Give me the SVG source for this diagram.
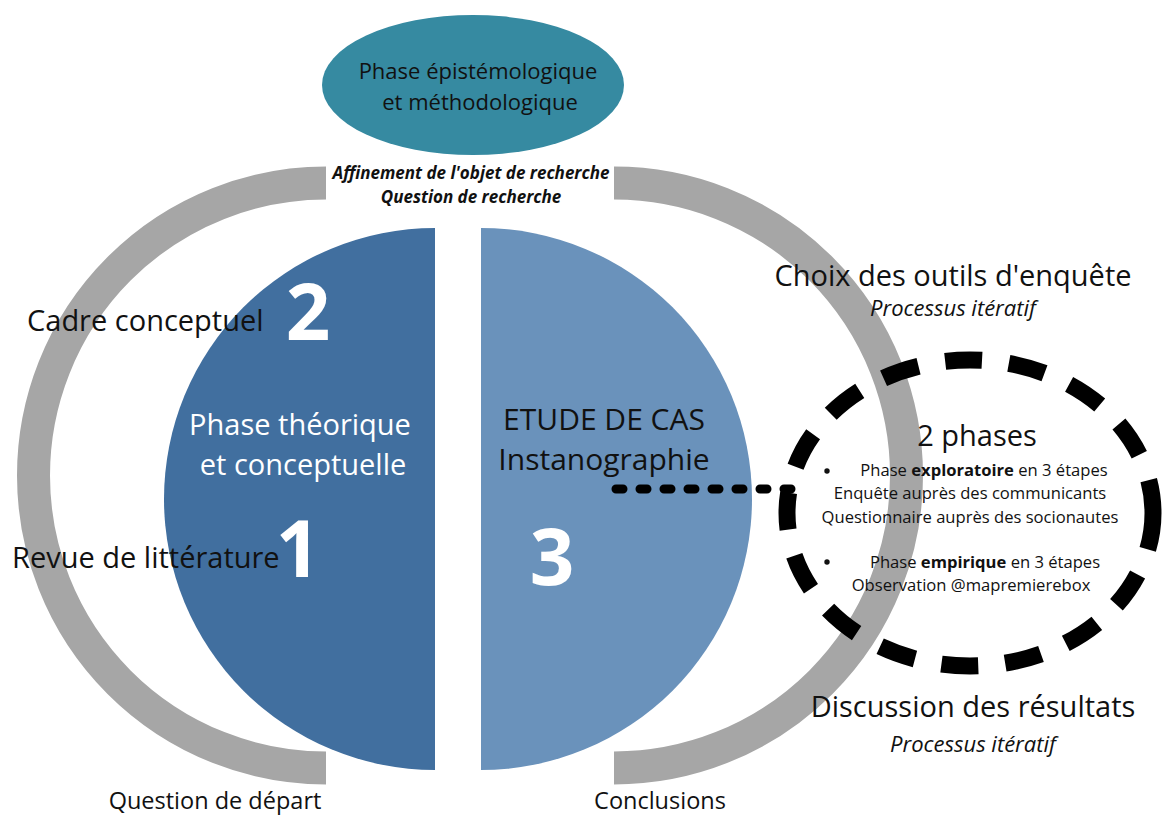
<svg xmlns="http://www.w3.org/2000/svg" width="1166" height="816" viewBox="0 0 1166 816">
  <style>
    text { font-family: "Open Sans", "Noto Sans", "Liberation Sans", sans-serif; fill: #111; }
    .big { font-size: 29px; }
    .case { font-size: 30px; }
    .mid { font-size: 23.5px; }
    .small { font-size: 16.6px; }
    .it { font-style: italic; font-size: 22px; }
    .num { font-weight: bold; font-size: 78px; fill: #fff; text-anchor: middle; }
    .white { fill: #fff; }
    .c { text-anchor: middle; }
    .ring { fill: none; stroke: #a6a6a6; stroke-width: 33; }
  </style>

  <!-- outer grey brackets -->
  <g id="rings">
    <path class="ring" d="M326 183 A292.5 292.5 0 0 0 326 768"/>
    <path class="ring" d="M614 183 A292.5 292.5 0 0 1 614 768"/>
  </g>

  <!-- theory half -->
  <g id="theory">
    <path d="M435 228 A271 271 0 0 0 435 770 Z" fill="#416f9f"/>
    <text class="big white c" x="300" y="435">Phase théorique</text>
    <text class="big white c" x="303" y="475">et conceptuelle</text>
    <text class="num" x="308" y="340">2</text>
    <text class="num" x="298" y="577">1</text>
  </g>

  <!-- case study half -->
  <g id="case-study">
    <path d="M481 228 A271 271 0 0 1 481 770 Z" fill="#6a92bb"/>
    <text class="case c" x="604" y="430">ETUDE DE CAS</text>
    <text class="case c" x="604" y="470">Instanographie</text>
    <text class="num" x="552" y="585">3</text>
  </g>

  <!-- epistemology phase -->
  <g id="epistemology">
    <ellipse cx="473" cy="85" rx="151" ry="70" fill="#368aa1"/>
    <text class="c" x="478" y="79" font-size="22">Phase épistémologique</text>
    <text class="c" x="480" y="110" font-size="22">et méthodologique</text>
    <text class="c" x="471" y="179" font-size="17" font-weight="bold" font-style="italic">Affinement de l'objet de recherche</text>
    <text class="c" x="471" y="203" font-size="17" font-weight="bold" font-style="italic">Question de recherche</text>
  </g>

  <!-- side labels -->
  <g id="labels">
    <text class="big" x="27" y="331">Cadre conceptuel</text>
    <text class="big" x="12" y="568">Revue de littérature</text>
    <text class="mid c" x="215" y="809">Question de départ</text>
    <text class="mid c" x="660" y="809">Conclusions</text>
    <text class="big c" x="953" y="286">Choix des outils d'enquête</text>
    <text class="it c" x="953" y="316">Processus itératif</text>
    <text class="big c" x="973" y="717">Discussion des résultats</text>
    <text class="it c" x="973" y="752">Processus itératif</text>
  </g>

  <!-- connectors -->
  <g id="connectors">
    <line x1="616" y1="489" x2="805" y2="489" stroke="#000" stroke-width="9" stroke-linecap="round" stroke-dasharray="7 17"/>
  </g>

  <!-- two-phase field work -->
  <g id="fieldwork">
    <ellipse cx="970" cy="513" rx="183" ry="153" fill="none" stroke="#000" stroke-width="17" stroke-dasharray="37 27"/>
    <text class="big c" x="977" y="446">2 phases</text>
    <circle cx="827" cy="471" r="2.7" fill="#111"/>
    <text class="small c" x="984" y="476">Phase <tspan font-weight="bold">exploratoire</tspan> en 3 étapes</text>
    <text class="small c" x="970" y="499">Enquête auprès des communicants</text>
    <text class="small c" x="970" y="523">Questionnaire auprès des socionautes</text>
    <circle cx="827" cy="562" r="2.7" fill="#111"/>
    <text class="small c" x="985" y="568">Phase <tspan font-weight="bold">empirique</tspan> en 3 étapes</text>
    <text class="small c" x="971" y="591">Observation @mapremierebox</text>
  </g>
</svg>
